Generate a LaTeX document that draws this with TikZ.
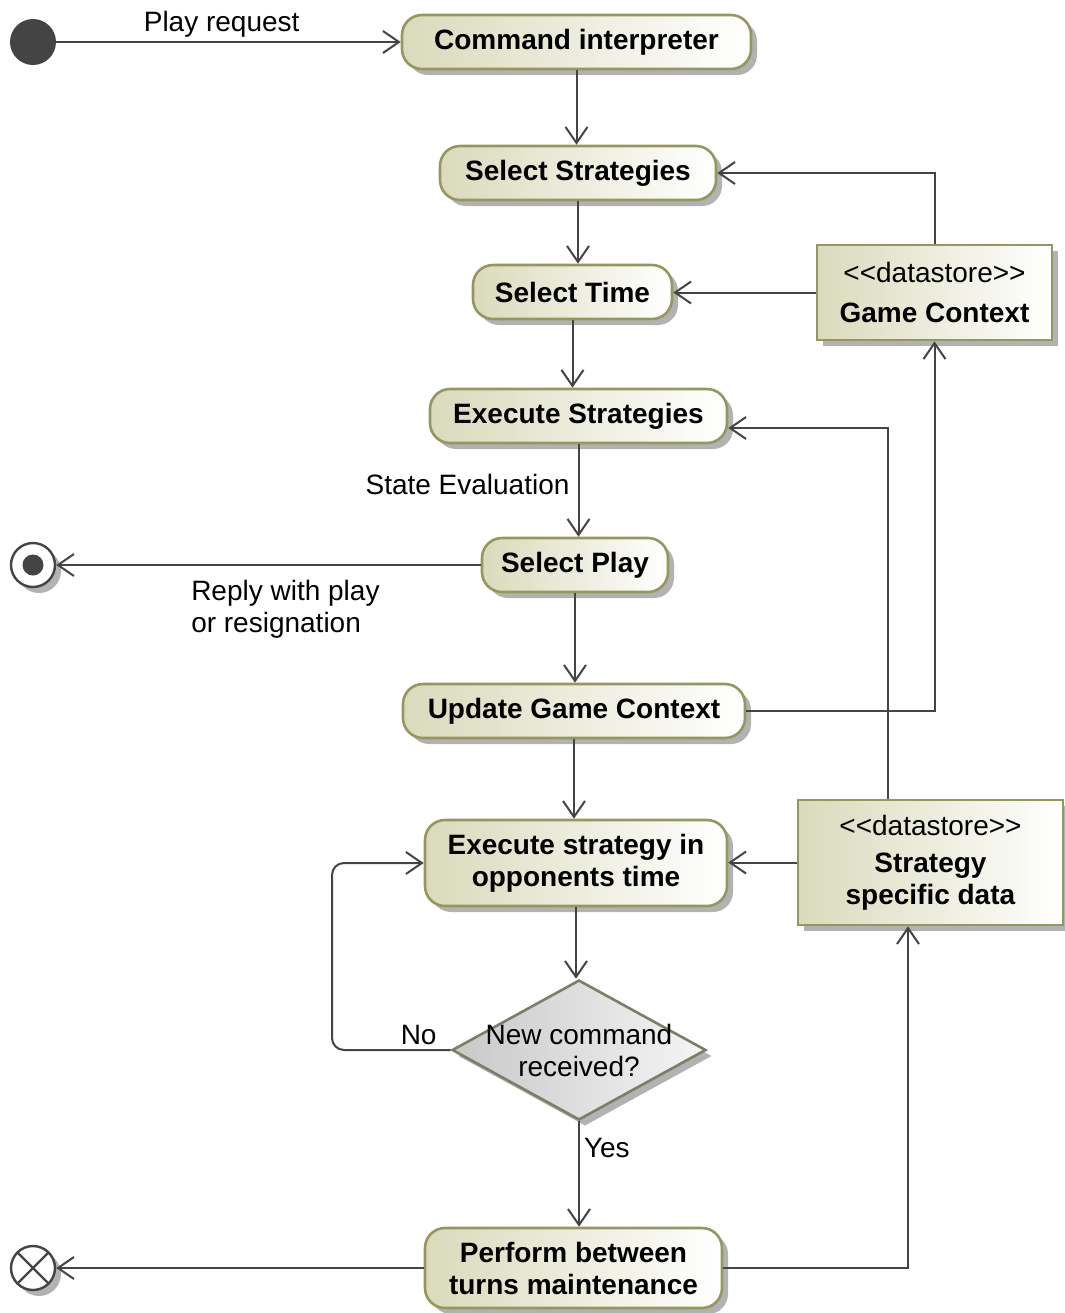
\documentclass[tikz,border=0pt]{standalone}
\usepackage{fontspec}
\setmainfont{Liberation Sans}
\usetikzlibrary{shapes.geometric,arrows.meta,shadows}
\definecolor{lineC}{RGB}{68,68,68}
\definecolor{oliveB}{RGB}{150,150,95}
\definecolor{oliveF}{RGB}{218,218,188}
\definecolor{decB}{RGB}{125,125,105}
\definecolor{decF}{RGB}{200,200,200}
\definecolor{decR}{RGB}{245,245,245}
\definecolor{shadowC}{RGB}{178,178,178}
\tikzset{
  shadowed/.style={drop shadow={shadow xshift=3pt, shadow yshift=-3pt, fill=shadowC, opacity=1}},
  act/.style={font=\fontsize{14}{16}\selectfont\bfseries, draw=oliveB, line width=1.3pt,
    rounded corners=10pt, left color=oliveF, right color=white, shadowed,
    minimum height=27pt, align=center, inner sep=0pt, text=black},
  store/.style={font=\fontsize{14}{16}\selectfont, draw=oliveB, line width=1.3pt,
    left color=oliveF, right color=white, shadowed, align=center, inner sep=0pt, text=black},
  flow/.style={draw=lineC, line width=1pt, -{Straight Barb[length=8pt,width=11pt]}},
  lbl/.style={font=\fontsize{14}{16}\selectfont, text=black, inner sep=2pt},
}
\begin{document}
\begin{tikzpicture}[x=0.5pt, y=-0.5pt]
\useasboundingbox (0,0) rectangle (1065,1313);

% start / end nodes
\node[circle, fill=lineC, minimum size=23pt, inner sep=0pt] (init) at (33,42) {};
\node[circle, draw=lineC, line width=1.2pt, fill=white, minimum size=22pt, inner sep=0pt, shadowed,
  path picture={\fill[lineC] (path picture bounding box.center) circle (5.25pt);}] (fin) at (33,565) {};
\node[circle, draw=lineC, line width=1.2pt, fill=white, minimum size=22pt, inner sep=0pt, shadowed,
  path picture={\draw[lineC, line width=1.2pt]
     (path picture bounding box.north west) -- (path picture bounding box.south east)
     (path picture bounding box.north east) -- (path picture bounding box.south west);}] (ff) at (33,1268) {};

% activities
\node[act, minimum width=174.5pt] (cmd) at (576.5,42) {Command interpreter};
\node[act, minimum width=138pt] (selS) at (578,173) {Select Strategies};
\node[act, minimum width=99.5pt] (selT) at (572.5,292) {Select Time};
\node[act, minimum width=148.5pt] (exS) at (578.5,416) {Execute Strategies};
\node[act, minimum width=93pt] (selP) at (575,565) {Select Play};
\node[act, minimum width=171pt] (upd) at (574,711) {Update Game Context};
\node[act, minimum width=151pt, minimum height=43pt] (exO) at (576,863) {Execute strategy in\\opponents time};
\node[act, minimum width=148.5pt, minimum height=40pt] (perf) at (573.5,1268) {Perform between\\turns maintenance};

% datastores
\node[store, minimum width=117.5pt, minimum height=47.5pt] (gc) at (934.5,292.5)
  {<\kern0pt<datastore>\kern0pt>\\[4pt]\textbf{Game Context}};
\node[store, minimum width=132.5pt, minimum height=62.5pt] (sd) at (930.5,862.5)
  {<\kern0pt<datastore>\kern0pt>\\[2.5pt]\textbf{Strategy}\\\textbf{specific data}};

% decision
\node[diamond, draw=decB, line width=1.3pt, left color=decF, right color=decR, shadowed,
  minimum width=127pt, minimum height=70pt, inner sep=0pt,
  label={[lbl, align=center]center:New command\\received?}] (dec) at (579,1050) {};

% connectors
\draw[flow] (init) -- node[lbl, above, pos=0.48]{Play request} (cmd.west);
\draw[flow] (cmd.south) -- (cmd.south |- selS.north);
\draw[flow] (selS.south) -- (selS.south |- selT.north);
\draw[flow] (selT.south) -- (selT.south |- exS.north);
\draw[flow] (exS.south) -- node[lbl, left=2pt, pos=0.43]{State Evaluation} (exS.south |- selP.north);
\draw[flow] (selP.west) -- node[lbl, below=5pt, pos=0.46, align=left]{Reply with play\\or resignation} (selP.west -| fin.east);
\draw[flow] (selP.south) -- (selP.south |- upd.north);
\draw[flow] (upd.east) -| (gc.south);
\draw[flow] (gc.north) |- (selS.east);
\draw[flow] (gc.west) -- (gc.west -| selT.east);
\draw[flow] (upd.south) -- (upd.south |- exO.north);
\draw[flow] (sd.west) -- (sd.west -| exO.east);
\draw[flow] ([xshift=-21.25pt]sd.north) |- ([yshift=-6pt]exS.east);
\draw[flow] (exO.south) -- (exO.south |- dec.north);
\coordinate (loop) at (332,863);
\draw[flow, rounded corners=6pt] (dec.west) -- node[lbl, above, pos=0.27]{No} (dec.west -| loop) -- (loop) -- (exO.west);
\draw[flow] (dec.south) -- node[lbl, right, pos=0.25]{Yes} (dec.south |- perf.north);
\draw[flow] (perf.east) -| ([xshift=-11.25pt]sd.south);
\draw[flow] (perf.west) -- (perf.west -| ff.east);
\end{tikzpicture}
\end{document}
